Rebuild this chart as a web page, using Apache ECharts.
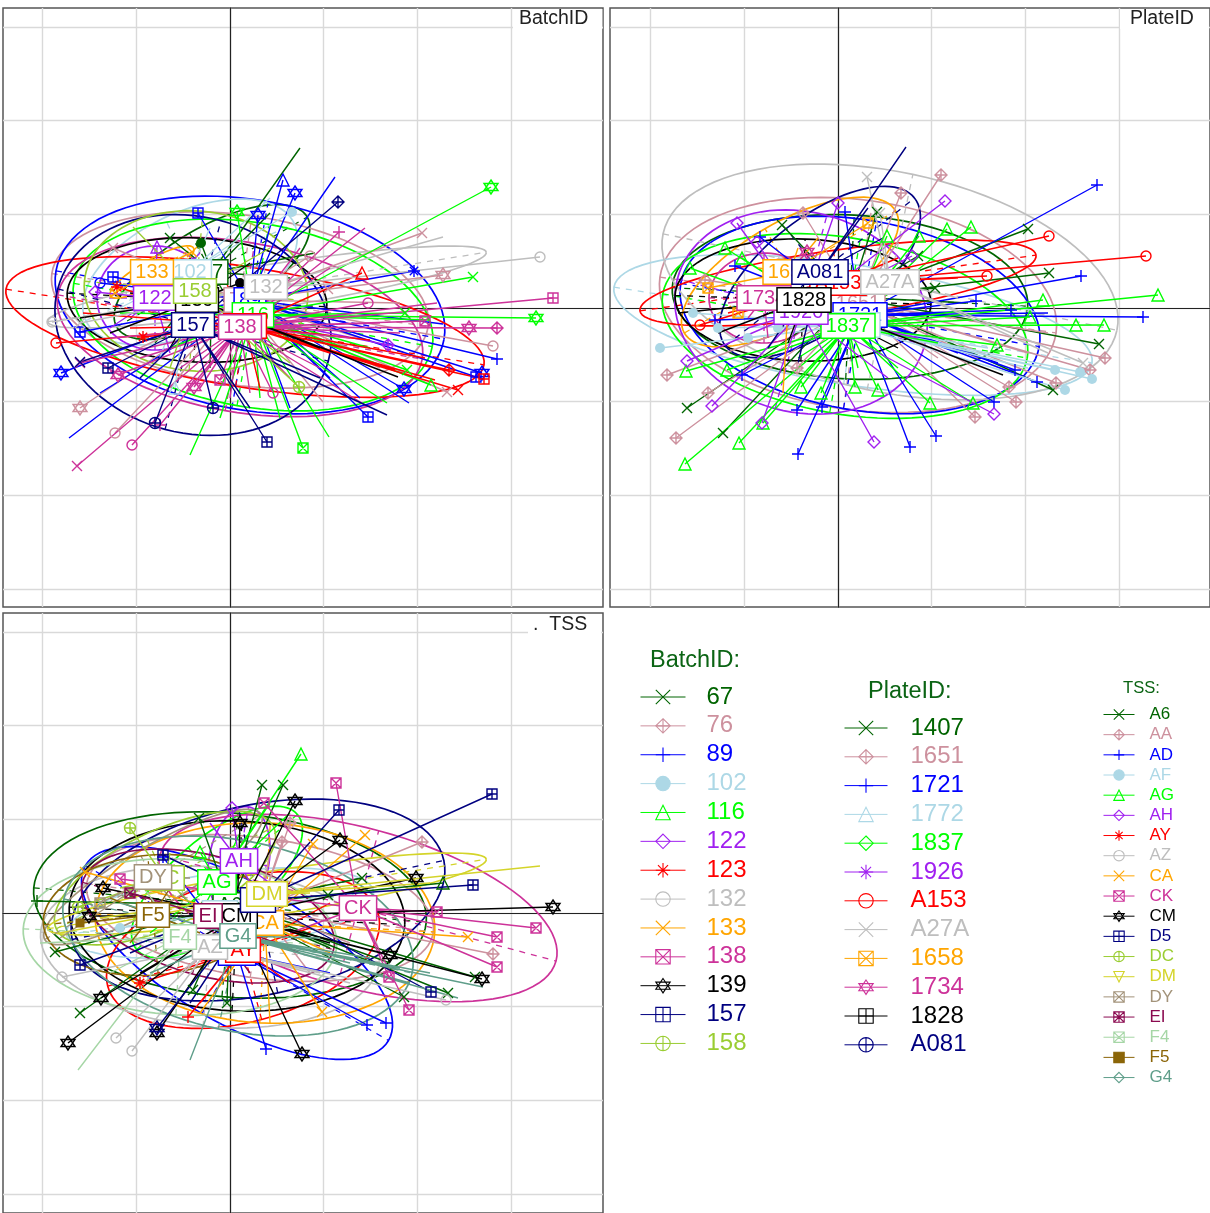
<!DOCTYPE html>
<html><head><meta charset="utf-8">
<style>html,body{margin:0;padding:0;background:#fff}#c{width:1210px;height:1213px}</style>
<script src="https://cdn.jsdelivr.net/npm/echarts@6/dist/echarts.min.js"></script>
</head><body><div id="c"></div>
<script>
// ---------- categories ----------
const batchNames=['67','76','89','102','116','122','123','132','133','138','139','157','158'];
const plateNames=['1407','1651','1721','1772','1837','1926','A153','A27A','1658','1734','1828','A081'];
const tssNames=['A6','AA','AD','AF','AG','AH','AY','AZ','CA','CK','CM','D5','DC','DM','DY','EI','F4','F5','G4'];
// ---------- group centres (label positions, data units) ----------
const batchCentres=[[-18,36],[10,8],[20,8],[-40,36],[23,-7],[-75,10],[15,-18],[36,21],[-78,36],[10,-19],[-33,8],[-37,-17],[-35,17]];
const plateCentres=[[12,11],[20,5],[22,-7],[15,-17],[10,-18],[-37,-4],[0,25],[52,26],[-48,36],[-74,10],[-34,8],[-18,36]];
const tssCentres=[[0,8],[30,5],[7,-40],[-10,0],[-13,31],[9,52],[13,-37],[-20,-34],[35,-10],[128,5],[7,-3],[28,13],[-65,35],[37,19],[-77,36],[-22,-3],[-50,-24],[-77,-2],[8,-23]];
// ---------- confidence ellipses: centre x, centre y, semi-major, semi-minor, tilt deg ----------
const batchEllipses=[[-18,36,110,45,30],[10,8,190,85,-8],[20,3,197,105,-10],[-40,36,115,60,25],[23,-7,182,92,-10],[-75,10,58,52,0],[15,-19,242,60,-9],[37,21,222,22,9],[-78,36,48,12,30],[10,-19,185,85,-10],[-33,8,130,62,-3],[-37,-17,140,108,-15],[-34,17,112,80,-5]];
const plateEllipses=[[12,11,178,82,-3],[20,3,200,105,-8],[22,-7,182,95,-10],[15,-17,242,60,-9],[7,-18,185,88,-10],[-37,-4,128,100,-15],[0,25,200,33,8],[52,26,232,110,-12],[-48,36,122,50,30],[-74,10,55,45,0],[-35,8,128,61,-2],[-18,36,120,55,38]];
const tssEllipses=[[0,8,197,92,-5],[30,5,175,70,-8],[7,-40,175,70,-30],[-10,0,155,40,8],[-13,31,105,45,40],[9,52,55,30,80],[13,-37,140,72,15],[-20,-34,170,80,-5],[35,-10,170,100,-3],[128,5,205,80,-15],[7,-3,168,95,-3],[28,13,190,95,12],[-65,35,120,48,25],[37,19,222,22,9],[-77,36,125,30,30],[-22,-3,130,60,-15],[-50,-24,157,78,-3],[-77,-2,110,60,5],[8,-23,178,95,-12]];
// ---------- observed points per group: [x, y, marker]; marker 0 = line end without a marker ----------
const batchPoints=[
 [[-29,65,'f'],[70,160,0],[-60,70,'x'],[85,55,0],[40,95,0],[-20,-60,0],[-75,-35,0],[60,30,0]],
 [[192,75,'x'],[213,33,'sd'],[263,-38,'c'],[217,-84,'x'],[93,-94,0],[80,52,'c'],[98,19,'x'],[-150,-100,'sd'],[-115,-125,'c'],[-117,60,'x'],[150,-60,0],[130,-30,0],[-90,-40,0],[-60,-80,0],[170,5,0],[-95,35,0]],
 [[65,115,'sd'],[105,131,0],[184,37,'s'],[267,-51,'p'],[252,-65,'sd'],[246,-69,'sp'],[174,-81,'sd'],[138,-109,'sp'],[179,-95,0],[213,-16,0],[-161,-130,0],[-169,-65,'sd'],[-150,-24,'sp'],[-32,95,'sp'],[28,93,'sd'],[53,128,'t'],[-130,25,'c'],[-117,31,'sp'],[-130,-85,0],[100,-70,0],[130,-90,0],[60,-100,0]],
 [[62,96,'f'],[-55,-80,'t'],[40,110,0],[-20,80,0],[10,70,0],[-100,30,0],[-70,-50,0],[-110,0,0]],
 [[261,121,'sd'],[243,31,'x'],[306,-10,'sd'],[201,-77,'t'],[73,-140,'sx'],[99,-129,0],[157,-95,0],[175,-5,'x'],[177,-62,'x'],[-40,-147,0],[7,96,'sd'],[30,-90,0],[-10,-110,0],[50,-110,0],[120,-80,0],[140,-40,0],[-110,-5,0],[-60,-40,0],[-80,20,0],[200,-12,0]],
 [[-73,61,'t'],[-135,16,'d'],[158,-37,'dp'],[-100,-10,0],[-60,-45,0],[-30,55,0],[-95,35,0],[-120,-20,0]],
 [[132,35,'t'],[219,-62,'dp'],[254,-71,'sp'],[228,-82,'x'],[-174,-35,'c'],[-87,-29,'s'],[-113,21,'s'],[-147,-5,0],[195,-50,0],[140,-32,0],[205,-72,0],[165,-62,0],[-100,-20,0],[100,-45,0],[30,-80,0],[-10,40,0]],
 [[310,51,'c'],[213,71,0],[-178,-14,'c'],[-150,-15,'x'],[120,25,0],[-100,10,0]],
 [[-115,15,'x'],[-38,56,'x'],[-90,30,0],[-60,50,0],[-100,25,0]],
 [[109,76,'p'],[323,10,'sp'],[267,-20,'dp'],[239,-20,'sd'],[135,80,0],[207,5,0],[195,-13,'sx'],[138,5,'c'],[135,-97,0],[-153,-158,'x'],[-98,-137,'c'],[-70,-117,'p'],[43,-85,'c'],[-36,-79,'sd'],[-10,-72,'sx'],[-150,-55,'x'],[-112,-67,'sd'],[-50,-60,0],[-30,-80,0],[0,-90,0],[20,-85,0],[60,-70,0],[90,-60,0],[120,-30,0],[150,-15,0],[-120,-30,0],[-90,-50,0],[100,40,0],[70,60,0],[170,-25,0]],
 [[168,-69,0],[10,25,'f'],[-150,-10,0],[-120,-25,0],[-100,15,0],[-80,40,0],[-60,-40,0],[-40,50,0],[90,-40,0],[20,45,0]],
 [[108,106,'dp'],[157,-107,0],[37,-134,'sp'],[-75,-115,'cp'],[-17,-100,'cp'],[-150,-54,'x'],[-122,-60,'sp'],[-90,-70,0],[20,-100,0],[90,-70,0]],
 [[69,-79,'cp'],[-97,81,0],[60,-55,0],[-60,-60,0],[-90,40,0],[40,60,0]]
];
const platePoints=[
 [[190,79,'x'],[211,35,'x'],[261,-36,'x'],[215,-82,'x'],[80,52,'x'],[97,20,'x'],[-115,-125,'x'],[-151,-100,'x'],[-56,83,'x'],[39,96,'x'],[150,-15,0],[-60,40,0],[130,5,0]],
 [[103,133,'dp'],[63,115,'dp'],[267,-50,'dp'],[252,-62,'dp'],[218,-75,'dp'],[171,-79,'dp'],[178,-94,'dp'],[137,-109,'dp'],[-162,-130,'dp'],[-130,-85,'dp'],[-171,-67,'dp'],[-35,95,'dp'],[-133,28,'dp'],[-41,-60,'dp'],[190,-45,0],[140,-50,0],[100,-50,0],[210,-25,0]],
 [[259,123,'p'],[243,32,'p'],[138,7,'p'],[173,-2,'p'],[305,-9,'p'],[199,-74,'p'],[177,-62,'p'],[156,-94,'p'],[98,-128,'p'],[72,-139,'p'],[-40,-146,'p'],[-41,-102,'p'],[-16,-99,'p'],[7,96,'p'],[-78,71,'p'],[-103,42,'p'],[-123,-12,'p'],[-96,-67,'p'],[160,-55,0],[120,-45,0],[210,-5,0]],
 [[254,-71,'f'],[242,-64,'f'],[227,-82,'f'],[217,-62,'f'],[-178,-40,'f'],[-145,-5,'f'],[-120,-20,'f'],[-90,-30,'f'],[-60,-20,'f'],[150,-40,0],[190,-60,0]],
 [[320,13,'t'],[205,8,'t'],[266,-17,'t'],[238,-17,'t'],[192,-9,'t'],[159,-37,'t'],[135,-95,'t'],[92,-95,'t'],[133,81,'t'],[109,79,'t'],[81,72,'t'],[49,72,'t'],[-153,-156,'t'],[-99,-135,'t'],[-75,-115,'t'],[-152,-63,'t'],[-113,60,'t'],[-148,40,'t'],[-96,50,'t'],[-37,-79,'t'],[-17,-85,'t'],[17,-79,'t'],[40,-82,'t'],[-111,-62,'t'],[60,-60,0],[-40,-50,0],[20,-60,0],[-10,-70,0],[100,-35,0]],
 [[156,-106,'d'],[74,52,'d'],[107,107,'d'],[-76,-115,'d'],[-126,-98,'d'],[-151,-53,'d'],[36,-134,'d'],[-101,85,'d'],[0,105,'d'],[-81,66,'d'],[80,-30,0],[-90,-20,0],[-60,30,0],[50,-70,0]],
 [[211,72,'c'],[308,52,'c'],[149,32,'c'],[-138,-17,'c'],[-110,-5,0],[120,30,0],[60,50,0]],
 [[245,-55,'x'],[29,131,'x'],[42,95,'x'],[210,-45,0],[120,10,0],[-60,50,0],[40,60,0]],
 [[-55,-85,0],[-130,20,'sx'],[-100,-5,'sx'],[-20,70,0],[30,85,'sx'],[-80,40,0],[-70,15,0],[-40,60,0]],
 [[-31,56,'sd'],[-110,5,0],[-90,-10,0],[-60,35,0],[-100,25,0],[-70,-30,0]],
 [[165,-67,0],[-160,-5,0],[-120,-25,0],[-90,15,0],[60,-40,0],[-60,30,0],[-50,-35,0],[-20,25,0]],
 [[68,161,0],[45,70,0],[-70,-40,0],[-40,-55,0],[30,100,0]]
];
const tssPoints=[
 [[32,128,'x'],[53,128,'x'],[-31,95,'x'],[132,35,'x'],[213,30,'t'],[245,-64,'x'],[218,-80,'x'],[174,-84,'x'],[98,18,'x'],[-193,12,'p'],[-175,-39,'x'],[-150,-100,'x'],[-37,-77,'x'],[-3,-90,'x'],[160,-50,0],[100,-35,0]],
 [[52,71,'dp'],[192,71,'dp'],[263,-41,'dp'],[40,60,0],[120,-30,0],[-60,30,0],[80,-60,0],[60,90,'dp']],
 [[156,-110,'p'],[137,-112,'p'],[36,-136,'p'],[-67,56,'p'],[60,-70,0],[100,-60,0],[-50,20,0]],
 [[-110,-15,'f'],[-80,10,0],[50,-10,0],[90,15,0]],
 [[71,159,'t'],[-30,61,'t'],[40,110,0],[60,100,0],[-50,-40,0],[-80,-20,0],[10,80,0]],
 [[2,105,'d'],[40,30,0],[-20,90,0],[30,10,0],[-10,20,0]],
 [[-42,-104,'p'],[80,-15,0],[60,-70,0],[-90,-70,'s'],[100,10,0],[-30,-90,0]],
 [[216,-87,'c'],[-168,-64,'c'],[-114,-125,'c'],[-98,-138,'c'],[90,-60,0],[-50,-60,0],[120,-70,0]],
 [[83,69,'x'],[135,78,'x'],[238,-24,'x'],[92,-99,'x'],[-145,41,'x'],[40,-110,0],[-30,-100,0],[100,-40,0],[60,20,0]],
 [[106,130,'sx'],[207,1,'sx'],[306,-15,'sx'],[267,-24,'sx'],[267,-54,'sx'],[179,-97,'sx'],[159,-64,'sx'],[34,110,'sx'],[-110,34,'sx'],[60,-20,0]],
 [[65,112,'sd'],[110,73,'sd'],[186,35,'sd'],[323,6,'sd'],[252,-66,'sd'],[160,-42,'sd'],[72,-141,'sd'],[10,90,'sd'],[-127,25,'sd'],[-141,-3,'sd'],[-129,-85,'sd'],[-162,-130,'sd'],[-73,-120,'sd'],[100,-30,0],[-90,-60,0]],
 [[262,119,'sp'],[109,103,'sp'],[243,28,'sp'],[201,-79,'sp'],[-150,-52,'sp'],[-67,58,'sp'],[-73,-115,'sd'],[-40,-90,0],[-100,-40,0],[60,20,0]],
 [[-100,85,'cp'],[-152,6,'cp'],[-60,60,0],[-110,25,0],[-40,10,0]],
 [[310,47,0],[200,30,0],[120,25,0],[-170,-20,0],[-130,-5,0],[80,20,0]],
 [[-130,10,'sx'],[-170,-25,0],[-90,30,0],[-60,15,0],[-40,35,0]],
 [[70,-40,0],[-100,20,'sx'],[-60,-40,0],[60,30,0],[20,-60,0]],
 [[-152,-157,0],[-190,-30,0],[-120,-60,0],[-90,30,0],[60,-15,0]],
 [[-150,-10,'F'],[-100,-30,0],[-60,25,0],[-120,15,0],[-30,-20,0]],
 [[-40,-147,0],[228,-85,0],[253,-74,0],[-110,10,0],[120,-50,0],[170,-55,0],[180,-70,0],[140,-45,0],[90,-25,0],[-80,-60,0],[200,-60,0]]
];
// ---------- styles ----------
const batchColors=['#006400','#cd919e','#0000ff','#add8e6','#00ff00','#a020f0','#ff0000','#bebebe','#ffa500','#cd3299','#000000','#000080','#9acd32'];
const plateColors=['#006400','#cd919e','#0000ff','#add8e6','#00ff00','#a020f0','#ff0000','#bebebe','#ffa500','#cd3299','#000000','#000080'];
const tssColors=['#006400','#cd919e','#0000ff','#add8e6','#00ff00','#a020f0','#ff0000','#bebebe','#ffa500','#cd3299','#000000','#000080','#9acd32','#d4d42a','#a3937a','#8b0a50','#a6d6a6','#8b6508','#5f9e8a'];
const batchMarks=['x','dp','p','f','t','d','s','c','x','sx','sd','sp','cp'];
const plateMarks=['x','dp','p','t','d','s','c','x','sx','sd','sp','cp'];
const tssMarks=['x','dp','p','f','t','d','s','c','x','sx','sd','sp','cp','it','sx','sq','sx','F','d'];
const SQ='M0 0H20V20H0Z',PL='M10 0V20M0 10H20',XX='M0 0L20 20M20 0L0 20',DI='M10 0L20 10L10 20L0 10Z',CI='M0 10A10 10 0 1 1 20 10A10 10 0 1 1 0 10Z';
const paths={x:'M0 0L20 20M20 0L0 20',p:PL,d:DI,dp:DI+PL,t:'M10 0L20 20H0Z',it:'M0 0H20L10 20Z',s:PL+'M3 3L17 17M17 3L3 17',c:CI,cp:CI+PL,sx:SQ+XX,sp:SQ+PL,sd:'M10 0L20 15H0ZM10 20L0 5H20Z',sq:SQ+XX+PL};
const sym=k=>k==='f'?'circle':k==='F'?'rect':'path://'+paths[k];
const filled=k=>k==='f'||k==='F';
const sizes={f:10,sd:14,d:12,dp:12,t:12,c:10,cp:11,sx:10,sp:10,p:12,x:10,s:12,F:9};

const panels=[
 {names:batchNames,colors:batchColors,marks:batchMarks,centres:batchCentres,ell:batchEllipses,pts:batchPoints,left:3,top:8,h:599,xmin:-227,ymax:300},
 {names:plateNames,colors:plateColors,marks:plateMarks,centres:plateCentres,ell:plateEllipses,pts:platePoints,left:610,top:8,h:599,xmin:-228,ymax:300},
 {names:tssNames,colors:tssColors,marks:tssMarks,centres:tssCentres,ell:tssEllipses,pts:tssPoints,left:3,top:613,h:600,xmin:-227,ymax:300}
];
const GRIDSTEP=93.7,ticks=[-3,-2,-1,0,1,2,3,4].map(i=>i*GRIDSTEP);
const grid=[],xAxis=[],yAxis=[],series=[];
panels.forEach((P,pi)=>{
 grid.push({left:P.left,top:P.top,width:600,height:P.h,show:true,borderColor:'#555',borderWidth:1.5,backgroundColor:'#fff',containLabel:false});
 const sl={show:true,lineStyle:{color:'#d9d9d9',width:1.4}};
 const ax={axisLabel:{show:false},splitLine:sl,axisLine:{show:true,onZero:true,lineStyle:{color:'#222',width:1.2}},gridIndex:pi,type:'value'};
 const xmax=P.xmin+600,ymin=P.ymax-P.h;
 xAxis.push({...ax,min:P.xmin,max:xmax,axisTick:{show:false,customValues:ticks.filter(v=>v>P.xmin&&v<xmax)}});
 yAxis.push({...ax,min:ymin,max:P.ymax,axisTick:{show:false,customValues:ticks.filter(v=>v>ymin&&v<P.ymax)}});
 P.names.forEach((n,i)=>{
  const c=P.colors[i],cen=P.centres[i],data=[];
  P.pts[i].forEach(p=>{
   data.push({value:[cen[0],cen[1]],symbol:'none'});
   const k=p[2];
   if(k===0) data.push({value:[p[0],p[1]],symbol:'none'});
   else data.push({value:[p[0],p[1]],symbol:sym(k),symbolSize:sizes[k],itemStyle:{color:filled(k)?c:'rgba(255,255,255,0)',borderColor:c,borderWidth:filled(k)?0:1.4}});
   data.push({value:[null,null],symbol:'none'});
  });
  const lg=P.marks[i];
  series.push({type:'line',name:n,xAxisIndex:pi,yAxisIndex:pi,data,encode:{x:0,y:1},symbol:sym(lg),showSymbol:true,showAllSymbol:true,animation:false,silent:true,connectNulls:false,
   lineStyle:{color:c,width:1.4},itemStyle:{color:filled(lg)?c:'rgba(255,255,255,0)',borderColor:c,borderWidth:filled(lg)?0:1.2},emphasis:{disabled:true}});
  series.push({type:'custom',name:n+' ellipse',xAxisIndex:pi,yAxisIndex:pi,data:[P.ell[i]],encode:{x:0,y:1},animation:false,silent:true,
   renderItem:(params,api)=>{
    const cx=api.value(0),cy=api.value(1),a=api.value(2),b=api.value(3),t=api.value(4)*Math.PI/180;
    const at=(u,v)=>api.coord([cx+u*Math.cos(t)-v*Math.sin(t),cy+u*Math.sin(t)+v*Math.cos(t)]);
    const pts=[];for(let q=0;q<=96;q++){const w=q/96*2*Math.PI;pts.push(at(a*Math.cos(w),b*Math.sin(w)));}
    const dash={stroke:c,lineWidth:1.3,lineDash:[6,6],fill:null};
    return {type:'group',children:[
     {type:'polyline',shape:{points:pts},style:{stroke:c,lineWidth:1.7,fill:null}},
     {type:'polyline',shape:{points:[at(-a,0),at(a,0)]},style:dash},
     {type:'polyline',shape:{points:[at(0,-b),at(0,b)]},style:dash}
    ]};
   }});
 });
 series.push({type:'scatter',name:'labels'+pi,xAxisIndex:pi,yAxisIndex:pi,z:6,silent:true,animation:false,symbolSize:1,itemStyle:{color:'rgba(0,0,0,0)',opacity:1},encode:{x:0,y:1},
  data:P.names.map((n,i)=>({value:P.centres[i],name:n,label:{show:true,position:'inside',formatter:n,color:P.colors[i],opacity:1,fontFamily:'Liberation Sans',fontSize:20,backgroundColor:'#fff',borderColor:P.colors[i],borderWidth:1.5,padding:[2,4,1,4]}}))});
});
const tt=(text,left,top,fs,color,extra)=>({text,left,top,padding:0,textStyle:{fontFamily:'Liberation Sans',fontWeight:'normal',fontSize:fs,color},...extra});
const title=[
 tt('BatchID',513,9,19.5,'#222',{backgroundColor:'#fff',padding:[0,14,0,6]}),
 tt('PlateID',1120,9,19.5,'#222',{backgroundColor:'#fff',padding:[0,15,0,10]}),
 tt('.  TSS',528,614,19.5,'#222',{backgroundColor:'#fff',padding:[1,14,0,5]}),
 tt('BatchID:',650,649,23.5,'#0b6414'),
 tt('PlateID:',868,680,23.5,'#0b6414'),
 tt('TSS:',1123,680,16.6,'#0b6414')
];
const mkLegend=(names,colors,left,top,iw,ih,fs,gap,tp)=>({left,top,orient:'vertical',itemWidth:iw,itemHeight:ih,itemGap:gap,selectedMode:false,padding:0,
 lineStyle:{width:1},itemStyle:{borderWidth:1.1},
 textStyle:{fontFamily:'Liberation Sans',fontSize:fs,padding:[0,0,0,tp],lineHeight:fs},
 data:names.map((n,i)=>({name:n,textStyle:{color:colors[i]}}))});
const legend=[
 mkLegend(batchNames,batchColors,640,685,45,18,24,4.87,16),
 mkLegend(plateNames,plateColors,844,716,43,18,24,4.8,18),
 mkLegend(tssNames,tssColors,1103,706,31,13,17,3.17,10)
];
const chart=echarts.init(document.getElementById('c'),null,{renderer:'canvas'});
chart.setOption({animation:false,backgroundColor:'#fff',title,legend,grid,xAxis,yAxis,series,tooltip:{show:false}});
</script></body></html>
